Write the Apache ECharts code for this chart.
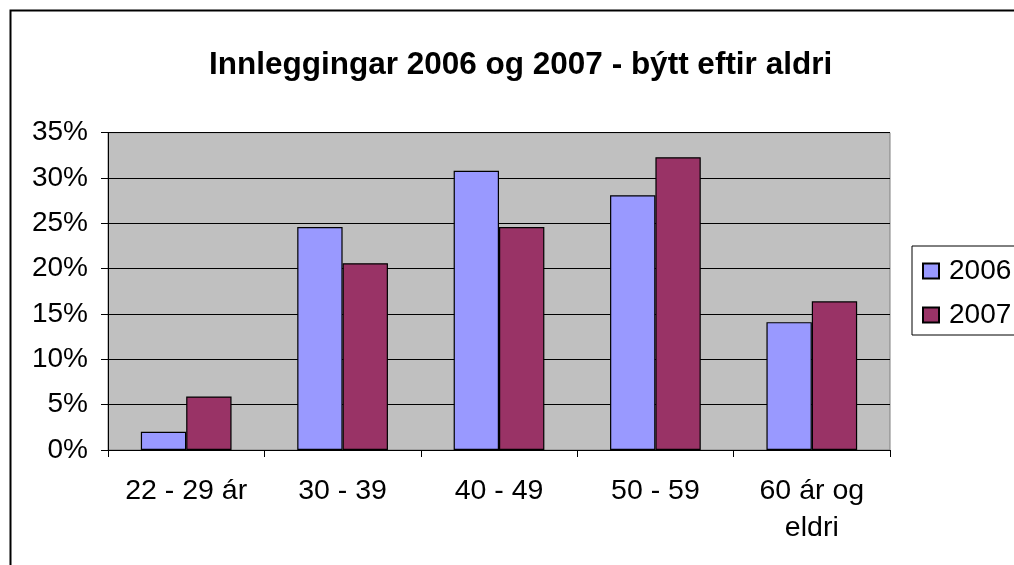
<!DOCTYPE html>
<html>
<head>
<meta charset="utf-8">
<script src="https://cdn.jsdelivr.net/npm/echarts@6/dist/echarts.min.js"></script>
<style>
html,body{margin:0;padding:0;background:#fff;}
#c{width:1014px;height:565px;}
</style>
</head>
<body>
<div id="c"></div>
<script>
var titleText = 'Innleggingar 2006 og 2007 - býtt eftir aldri';
var categories = ['22 - 29 ár', '30 - 39', '40 - 49', '50 - 59', '60 ár og\neldri'];
var seriesNames = ['2006', '2007'];
var values2006 = [2.0, 24.6, 30.8, 28.1, 14.1];
var values2007 = [5.9, 20.6, 24.6, 32.3, 16.4];
var yMin = 0, yMax = 35, yStep = 5;

var FONT = '"Liberation Sans", Arial, sans-serif';
var chart = echarts.init(document.getElementById('c'), null, {renderer: 'canvas'});
chart.setOption({
  animation: false,
  backgroundColor: '#fff',
  textStyle: {fontFamily: FONT},
  graphic: [{
    type: 'rect', left: 8, top: 8, silent: true,
    shape: {x: 0, y: 0, width: 1200, height: 700},
    style: {fill: 'none', stroke: '#000', lineWidth: 2}
  }],
  title: {
    text: titleText,
    left: 209, top: 49, padding: 0,
    textStyle: {fontFamily: FONT, fontSize: 31.5, fontWeight: 'bold', color: '#000'}
  },
  legend: {
    orient: 'vertical',
    left: 912, top: 246,
    padding: [11, 10, 6, 10],
    itemGap: 16,
    itemWidth: 16, itemHeight: 15,
    icon: 'rect',
    borderColor: '#000', borderWidth: 1,
    textStyle: {fontFamily: FONT, fontSize: 28, color: '#000', padding: [0, 0, 0, 5]},
    data: seriesNames
  },
  grid: {
    left: 108, top: 132.7, right: 124, bottom: 115,
    show: true, backgroundColor: '#c0c0c0', borderColor: '#808080', borderWidth: 1,
    containLabel: false
  },
  xAxis: {
    type: 'category',
    data: categories,
    axisLine: {lineStyle: {color: '#000', width: 1}},
    axisTick: {show: true, length: 7, lineStyle: {color: '#000'}},
    axisLabel: {fontFamily: FONT, fontSize: 28.5, color: '#000', margin: 23, lineHeight: 37, interval: 0}
  },
  yAxis: {
    type: 'value',
    min: yMin, max: yMax, interval: yStep,
    axisLine: {show: true, lineStyle: {color: '#000', width: 1}},
    axisTick: {show: true, length: 7, lineStyle: {color: '#000'}},
    splitLine: {show: true, lineStyle: {color: '#000', width: 1}},
    axisLabel: {fontFamily: FONT, fontSize: 28, color: '#000', margin: 20, formatter: '{value}%'}
  },
  series: [
    {
      name: seriesNames[0], type: 'bar', data: values2006,
      barGap: '0%', barCategoryGap: '42%',
      itemStyle: {color: '#9999ff', borderColor: '#000', borderWidth: 1.2}
    },
    {
      name: seriesNames[1], type: 'bar', data: values2007,
      barGap: '0%', barCategoryGap: '42%',
      itemStyle: {color: '#993366', borderColor: '#000', borderWidth: 1.2}
    }
  ]
});
</script>
</body>
</html>
